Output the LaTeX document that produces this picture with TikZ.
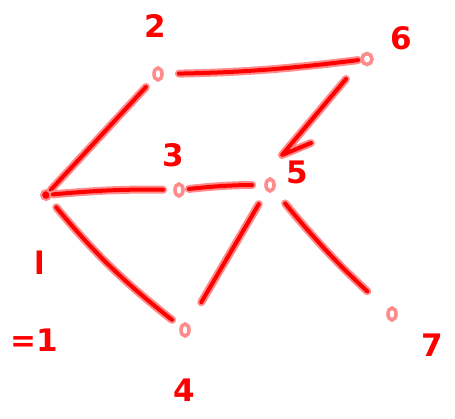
\documentclass[tikz,border=0pt]{standalone}
\usepackage{fontspec}
\setsansfont{DejaVu Sans}
\usetikzlibrary{arrows.meta,shapes.geometric}
\definecolor{pen}{RGB}{255,0,0}
\definecolor{halo}{RGB}{255,140,140}
\tikzset{
  ink/.style={pen, line width=4pt, line cap=round, line join=round,
    preaction={draw, halo, line width=8pt, line cap=round, line join=round}},
  thin ink/.style={pen, line width=1.8pt,
    preaction={draw, halo, line width=3.6pt}},
  vert/.style={ellipse, inner sep=0pt, minimum width=8pt, minimum height=12pt, thin ink},
  vfill/.style={circle, inner sep=0pt, minimum size=10pt, fill=pen, draw=halo, line width=2pt},
  lbl/.style={text=pen, font=\fontsize{31}{31}\selectfont\sffamily\bfseries, inner sep=0pt},
}
\begin{document}
\begin{tikzpicture}[x=1pt,y=-1pt]
\useasboundingbox (0,0) rectangle (455,419);
% vertices
\node[vfill] (n1) at (46,195) {};
\node[vert] (n2) at (158,74) {};
\node[vert] (n3) at (179,190) {};
\node[vert] (n4) at (185,330) {};
\node[vert] (n5) at (270,185) {};
\node[vert, minimum width=10pt, minimum height=11pt] (n6) at (367,59) {};
\node[vert] (n7) at (392,314) {};
% labels
\node[lbl] (l2) at (155,26) {2};
\node[lbl] (l6) at (401,38) {6};
\node[lbl] (l3) at (173,155) {3};
\node[lbl] (l5) at (297,172) {5};
\node[lbl] (l1) at (40,263) {l};
\node[lbl] (lr) at (34,340) {=1};
\node[lbl] (l4) at (184,390) {4};
\node[lbl] (l7) at (432,345) {7};
% edges
\draw[ink, shorten <=16pt, shorten >=3pt] (n2) to[bend right=3] (n6);
\draw[ink, shorten <=1pt, shorten >=12pt] (n1) -- (n2);
\draw[ink, shorten <=1pt, shorten >=11pt] (n1) to[bend left=3] (n3);
\draw[ink, shorten <=5pt, shorten >=13pt] (n3) to[bend left=3] (n5);
\draw[ink, shorten <=10pt, shorten >=11pt] (n1) to[bend right=6] (n4);
\draw[ink, shorten <=16pt, shorten >=26pt] (n5) -- (n4);
\draw[ink, shorten <=18pt, shorten >=28pt] (n5) to[bend right=4] (n7);
\coordinate (t5) at (282,155);
\coordinate (s6) at (346,79);
\coordinate (b5) at (311,143);
\draw[ink] (s6) -- (t5) -- (b5);
\end{tikzpicture}
\end{document}
